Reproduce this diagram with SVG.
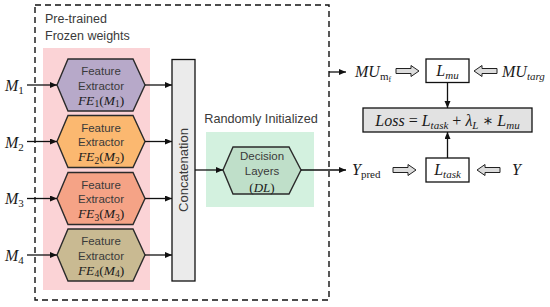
<svg xmlns="http://www.w3.org/2000/svg" width="550" height="307" viewBox="0 0 550 307">
<style>
.sans{font-family:"Liberation Sans","Open Sans",Arial,sans-serif;fill:#3a3a3a}
.math{font-family:"Liberation Serif","DejaVu Serif",serif;font-style:italic;fill:#1a1a1a}
.up{font-style:normal}
.hex{stroke:#2b2b2b;stroke-width:1.4}
.ln{stroke:#111;stroke-width:1.3;fill:none}
.box{stroke:#111;stroke-width:1.3}
.hol{fill:#dcdcdc;stroke:#222;stroke-width:1}
</style>
<defs>
<marker id="ah" markerUnits="userSpaceOnUse" markerWidth="8" markerHeight="8" refX="7" refY="3" orient="auto">
<path d="M0,0 L7,3 L0,6 Z" fill="#111"/>
</marker>
<path id="hollow" d="M0,-2.5 H15 V-5.5 L23,0 L15,5.5 V2.5 H0 Z"/>
</defs>

<rect x="35" y="5" width="294" height="295" fill="none" stroke="#111" stroke-width="1.4" stroke-dasharray="6,4"/>
<rect x="43" y="48" width="107" height="242" fill="#fbd3d6"/>
<rect x="206" y="132" width="108" height="75" fill="#d3f1df"/>

<text class="sans" x="45" y="22.5" font-size="12.5">Pre-trained</text>
<text class="sans" x="45" y="39.5" font-size="12.5">Frozen weights</text>
<text class="sans" x="261" y="122.5" font-size="12.7" text-anchor="middle">Randomly Initialized</text>

<g id="labels-m">
<text class="math" x="5" y="91" font-size="16">M<tspan font-size="11" dy="3" class="up">1</tspan></text>
<text class="math" x="5" y="147.5" font-size="16">M<tspan font-size="11" dy="3" class="up">2</tspan></text>
<text class="math" x="5" y="204" font-size="16">M<tspan font-size="11" dy="3" class="up">3</tspan></text>
<text class="math" x="5" y="261" font-size="16">M<tspan font-size="11" dy="3" class="up">4</tspan></text>
</g>

<g id="fe1">
<polygon class="hex" fill="#b7a9c9" points="57,85 68,59 133,59 145,85 133,111 68,111"/>
<text class="sans" x="101" y="75" font-size="11.5" text-anchor="middle">Feature</text>
<text class="sans" x="101" y="89.5" font-size="11.5" text-anchor="middle">Extractor</text>
<text class="math" x="101" y="104.5" font-size="13.5" text-anchor="middle">FE<tspan class="up" font-size="9.5" dy="2.5">1</tspan><tspan class="up" dy="-2.5">(</tspan>M<tspan class="up" font-size="9.5" dy="2.5">1</tspan><tspan class="up" dy="-2.5">)</tspan></text>
</g>
<g id="fe2">
<polygon class="hex" fill="#fbb870" points="57,141.5 68,115.5 133,115.5 145,141.5 133,167.5 68,167.5"/>
<text class="sans" x="101" y="131.5" font-size="11.5" text-anchor="middle">Feature</text>
<text class="sans" x="101" y="146" font-size="11.5" text-anchor="middle">Extractor</text>
<text class="math" x="101" y="161" font-size="13.5" text-anchor="middle">FE<tspan class="up" font-size="9.5" dy="2.5">2</tspan><tspan class="up" dy="-2.5">(</tspan>M<tspan class="up" font-size="9.5" dy="2.5">2</tspan><tspan class="up" dy="-2.5">)</tspan></text>
</g>
<g id="fe3">
<polygon class="hex" fill="#f5a386" points="57,198.5 68,172.5 133,172.5 145,198.5 133,224.5 68,224.5"/>
<text class="sans" x="101" y="188.5" font-size="11.5" text-anchor="middle">Feature</text>
<text class="sans" x="101" y="203" font-size="11.5" text-anchor="middle">Extractor</text>
<text class="math" x="101" y="218" font-size="13.5" text-anchor="middle">FE<tspan class="up" font-size="9.5" dy="2.5">3</tspan><tspan class="up" dy="-2.5">(</tspan>M<tspan class="up" font-size="9.5" dy="2.5">3</tspan><tspan class="up" dy="-2.5">)</tspan></text>
</g>
<g id="fe4">
<polygon class="hex" fill="#c9ba92" points="57,255 68,229 133,229 145,255 133,281 68,281"/>
<text class="sans" x="101" y="245" font-size="11.5" text-anchor="middle">Feature</text>
<text class="sans" x="101" y="259.5" font-size="11.5" text-anchor="middle">Extractor</text>
<text class="math" x="101" y="274.5" font-size="13.5" text-anchor="middle">FE<tspan class="up" font-size="9.5" dy="2.5">4</tspan><tspan class="up" dy="-2.5">(</tspan>M<tspan class="up" font-size="9.5" dy="2.5">4</tspan><tspan class="up" dy="-2.5">)</tspan></text>
</g>

<g id="concat">
<rect class="box" x="172" y="59.5" width="23" height="221.5" fill="#ebebeb"/>
<text class="sans" transform="translate(188,170) rotate(-90)" x="0" y="0" font-size="13" text-anchor="middle">Concatenation</text>
</g>

<g id="dl">
<polygon class="hex" fill="#bfdfc9" points="223,170 233,147 289,147 301,170 289,194 233,194"/>
<text class="sans" x="262" y="160" font-size="11.5" text-anchor="middle">Decision</text>
<text class="sans" x="262" y="175" font-size="11.5" text-anchor="middle">Layers</text>
<text class="math" x="262" y="191.5" font-size="13" text-anchor="middle"><tspan class="up">(</tspan>DL<tspan class="up">)</tspan></text>
</g>

<g id="lmu">
<rect class="box" x="426" y="59" width="43" height="23.5" fill="#fff"/>
<text class="math" x="447.5" y="76" font-size="16" text-anchor="middle">L<tspan font-size="11" dy="3">mu</tspan></text>
</g>
<g id="loss">
<rect class="box" x="363" y="108" width="169" height="24" fill="#e2e2e2"/>
<text class="math" x="447.5" y="125.5" font-size="16" text-anchor="middle">Loss <tspan class="up">=</tspan> L<tspan font-size="11" dy="3">task</tspan><tspan dy="-3"> </tspan><tspan class="up">+</tspan> λ<tspan font-size="11" dy="3">L</tspan><tspan dy="-3"> </tspan><tspan class="up">∗</tspan> L<tspan font-size="11" dy="3">mu</tspan></text>
</g>
<g id="ltask">
<rect class="box" x="426" y="158" width="43" height="24" fill="#fff"/>
<text class="math" x="447.5" y="175" font-size="16" text-anchor="middle">L<tspan font-size="11" dy="3">task</tspan></text>
</g>

<g id="right-labels">
<text class="math" x="355" y="77" font-size="16">MU<tspan class="up" font-size="11" dy="3">m</tspan><tspan class="up" font-size="8" dy="2">f</tspan></text>
<text class="math" x="502" y="77" font-size="16">MU<tspan font-size="11" dy="3">targ</tspan></text>
<text class="math" x="352" y="175" font-size="16">Y<tspan class="up" font-size="11" dy="3">pred</tspan></text>
<text class="math" x="512" y="175" font-size="16">Y</text>
</g>

<g id="connectors">
<line class="ln" x1="27" y1="85" x2="57" y2="85" marker-end="url(#ah)"/>
<line class="ln" x1="27" y1="141.5" x2="57" y2="141.5" marker-end="url(#ah)"/>
<line class="ln" x1="27" y1="198.5" x2="57" y2="198.5" marker-end="url(#ah)"/>
<line class="ln" x1="27" y1="255" x2="57" y2="255" marker-end="url(#ah)"/>
<line class="ln" x1="145" y1="85" x2="172" y2="85" marker-end="url(#ah)"/>
<line class="ln" x1="145" y1="141.5" x2="172" y2="141.5" marker-end="url(#ah)"/>
<line class="ln" x1="145" y1="198.5" x2="172" y2="198.5" marker-end="url(#ah)"/>
<line class="ln" x1="145" y1="255" x2="172" y2="255" marker-end="url(#ah)"/>
<line class="ln" x1="195" y1="170" x2="223" y2="170" marker-end="url(#ah)"/>
<line class="ln" x1="301" y1="170" x2="346" y2="170" marker-end="url(#ah)"/>
<line class="ln" x1="329" y1="72" x2="346" y2="72" marker-end="url(#ah)"/>
<line class="ln" x1="447.5" y1="82.5" x2="447.5" y2="108" marker-end="url(#ah)"/>
<line class="ln" x1="447.5" y1="158" x2="447.5" y2="132" marker-end="url(#ah)"/>
<use href="#hollow" class="hol" transform="translate(396,71)"/>
<use href="#hollow" class="hol" transform="translate(497,71) scale(-1,1)"/>
<use href="#hollow" class="hol" transform="translate(393,170)"/>
<use href="#hollow" class="hol" transform="translate(500,170) scale(-1,1)"/>
</g>
</svg>
